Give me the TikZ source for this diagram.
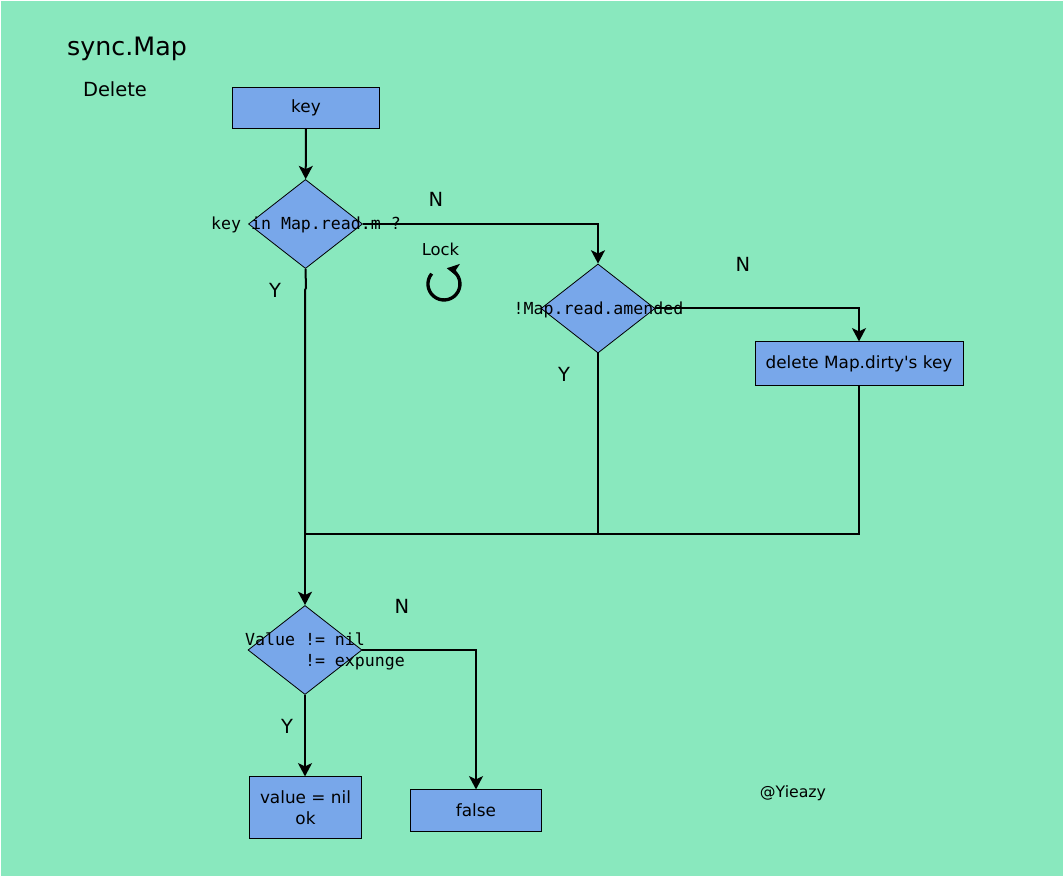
\documentclass[tikz,border=0pt]{standalone}
\usepackage{fontspec}
\setmainfont{DejaVu Sans}[Ligatures=TeXOff]
\setmonofont{DejaVu Sans Mono}
\usetikzlibrary{arrows.meta,shapes.geometric}
\definecolor{bggreen}{HTML}{89E8BE}
\definecolor{boxblue}{HTML}{78A7EA}
\tikzset{
  stepbox/.style={draw=black,fill=boxblue,line width=0.6pt,inner sep=0pt,align=center,font=\fontsize{12.65}{15.75}\selectfont},
  decision/.style={diamond,draw=black,fill=boxblue,line width=0.6pt,inner sep=0pt,minimum width=85.5pt,minimum height=66.8pt},
  codetext/.style={font=\ttfamily\fontsize{12.45}{15.75}\selectfont,align=left,inner sep=0pt},
  mark label/.style={font=\fontsize{14.6}{18}\selectfont,inner sep=0pt},
  link/.style={line width=1.5pt,-{Stealth[length=10pt,width=10.5pt,inset=2.5pt]}},
  plainlink/.style={line width=1.5pt}
}
\begin{document}
\begin{tikzpicture}[x=0.75pt,y=-0.75pt]
  % page
  \useasboundingbox (0,0) rectangle (1064,877);
  \fill[white] (0,0) rectangle (1064,877);
  \fill[bggreen] (1,1) rectangle (1063,876);

  % titles
  \node[font=\fontsize{19}{23}\selectfont,inner sep=0pt] (title) at (127,49) {sync.Map};
  \node[mark label] (subtitle) at (115,89) {Delete};

  % boxes and tests
  \node[stepbox,minimum width=110pt,minimum height=31pt] (key) at (306,108) {key};
  \node[decision] (inmap) at (305.5,224) {};
  \node[decision] (amended) at (598,308.5) {};
  \node[stepbox,minimum width=156pt,minimum height=32.5pt] (dirty) at (859,363.5) {delete Map.dirty's key};
  \node[decision] (value) at (305,650) {};
  \node[stepbox,minimum width=84pt,minimum height=46pt] (result) at (305.5,807.5) {value = nil\\ok};
  \node[stepbox,minimum width=98pt,minimum height=31pt] (false) at (476,810.5) {false};

  % connectors
  \coordinate (jog) at (305,290);
  \coordinate (join) at (305,534);
  \draw[link] (key) -- (inmap);
  \draw[link] (inmap.east) -| (amended.north);
  \draw[link] (amended.east) -| (dirty.north);
  \draw[plainlink] (inmap.south) -- (306,288) -- (jog) -- (join);
  \draw[plainlink] (amended.south) |- (join);
  \draw[plainlink] (dirty.south) |- (join);
  \draw[link] (join) -- (value);
  \draw[link] (value) -- (value |- result.north);
  \draw[link] (value.east) -| (false.north);

  % lock arrow
  \coordinate (lockstart) at (431.7,273.7);
  \draw[line width=2.5pt,-{Stealth[length=9pt,width=9.5pt,inset=2pt]}] (lockstart) arc[start angle=140,end angle=440,radius=12pt];
  \node[font=\fontsize{12.3}{15}\selectfont,inner sep=0pt] (lock) at (440.5,249) {Lock};

  % text on the tests
  \node[codetext] (inmaptext) at (306,224.5) {key in Map.read.m ?};
  \node[codetext] (amendedtext) at (598.5,309.5) {!Map.read.amended};
  \node[codetext] (valuetext) at (325,651) {Value != nil\\\phantom{Value }!= expunge};

  % branch labels
  \node[mark label] (ninmap) at (436,199) {N};
  \node[mark label] (yinmap) at (275,290) {Y};
  \node[mark label] (namended) at (743,264) {N};
  \node[mark label] (yamended) at (564,374) {Y};
  \node[mark label] (nvalue) at (402,606) {N};
  \node[mark label] (yvalue) at (287,726) {Y};
  \node[font=\fontsize{11.8}{15}\selectfont,inner sep=0pt] (sign) at (793,793) {@Yieazy};
\end{tikzpicture}
\end{document}
